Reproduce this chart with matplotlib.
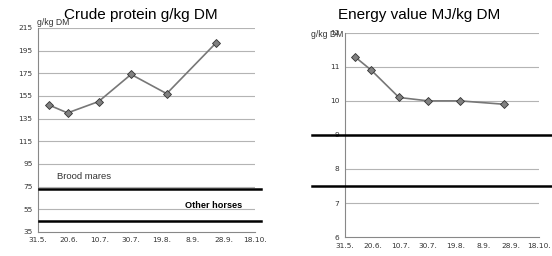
import datetime as dt
import matplotlib
matplotlib.use("Agg")
import matplotlib.pyplot as plt
import matplotlib.transforms as mtransforms
from matplotlib.lines import Line2D

plt.rcParams['font.family'] = ['Liberation Sans', 'DejaVu Sans']

# sampling dates (day.month.)
sample_dates = ["7.6.", "19.6.", "9.7.", "30.7.", "22.8.", "23.9."]
protein = [147, 140, 150, 174, 157, 202]
energy = [11.3, 10.9, 10.1, 10.0, 10.0, 9.9]

tick_labels = ["31.5.", "20.6.", "10.7.", "30.7.", "19.8.", "8.9.", "28.9.", "18.10."]

protein_ticks = [35, 55, 75, 95, 115, 135, 155, 175, 195, 215]
energy_ticks = [6, 7, 8, 9, 10, 11, 12]

# requirement levels
protein_levels = [73, 45]
energy_levels = [9.0, 7.5]


def to_date(s):
    d, m = s.strip(".").split(".")
    return dt.date(2013, int(m), int(d))


x = [to_date(s) for s in sample_dates]
xt = [to_date(s) for s in tick_labels]

fig = plt.figure(figsize=(5.52, 2.56), dpi=100)
ax1 = fig.add_axes([0.069, 0.094, 0.393, 0.797])
ax2 = fig.add_axes([0.625, 0.074, 0.351, 0.798])


def style(ax, yticks):
    ax.set_xlim(xt[0], xt[-1])
    ax.set_xticks(xt)
    ax.set_xticklabels(tick_labels)
    ax.set_ylim(yticks[0], yticks[-1])
    ax.set_yticks(yticks)
    ax.tick_params(labelsize=5.3, length=0, colors='#333333', pad=4)
    for lab in ax.get_xticklabels() + ax.get_yticklabels():
        lab.set_family('DejaVu Sans')
    for y in yticks[1:]:
        ax.axhline(y, color='#b4b4b4', lw=0.8, zorder=0)
    for s in ['top', 'right']:
        ax.spines[s].set_visible(False)
    for s in ['left', 'bottom']:
        ax.spines[s].set_color('#888888')
        ax.spines[s].set_linewidth(0.8)


style(ax1, protein_ticks)
style(ax2, energy_ticks)

ax1.plot(x, protein, color='#777777', lw=1.2, marker='D', ms=3.8,
         mfc='#808080', mec='#333333', mew=0.6, zorder=3)
ax2.plot(x, energy, color='#777777', lw=1.2, marker='D', ms=3.8,
         mfc='#808080', mec='#333333', mew=0.6, zorder=3)

fig.text(0.255, 0.943, "Crude protein g/kg DM", ha='center', va='center', fontsize=11)
fig.text(0.759, 0.943, "Energy value MJ/kg DM", ha='center', va='center', fontsize=11)
fig.text(0.067, 0.912, "g/kg DM", fontsize=6.2, color='#333333', va='center')
fig.text(0.563, 0.866, "g/kg DM", fontsize=6.2, color='#333333', va='center')

# black requirement lines, extending past the plot area
tr1 = mtransforms.blended_transform_factory(fig.transFigure, ax1.transData)
for y in protein_levels:
    fig.add_artist(Line2D([0.0707, 0.4728], [y, y], transform=tr1, color='black', lw=1.8))
tr2 = mtransforms.blended_transform_factory(fig.transFigure, ax2.transData)
for y in energy_levels:
    fig.add_artist(Line2D([0.565, 1.0], [y, y], transform=tr2, color='black', lw=1.8))

ax1.text(xt[0] + dt.timedelta(days=12), 84, "Brood mares", fontsize=6.8, color='#333333', va='center')
ax1.text(xt[0] + dt.timedelta(days=95), 58.5, "Other horses", fontsize=6.6, fontweight='bold', va='center')

fig.savefig("out.png", dpi=100)
